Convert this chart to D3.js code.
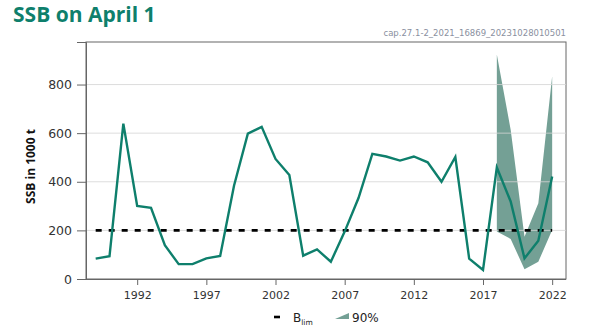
<!DOCTYPE html>
<html>
<head>
<meta charset="utf-8">
<script src="https://cdn.jsdelivr.net/npm/d3@7"></script>
<style>
  html, body { margin: 0; padding: 0; background: #fff; }
  svg { display: block; }
</style>
</head>
<body>
<svg id="chart" width="600" height="333"></svg>
<script>
// ------------------------------------------------------------
// SSB on April 1 – capelin stock, with 90% interval for recent years
// ------------------------------------------------------------

const YEARS = d3.range(1989, 2023);
const SSB = [
  84, 94, 639, 301, 293, 139, 61, 61, 85, 95,
  384, 598, 626, 494, 428, 96, 122, 71, 195, 333,
  515, 504, 487, 504, 480, 400, 502, 84, 37, 459,
  319, 85, 157, 422
];

const BAND_YEARS = [2018, 2019, 2020, 2021, 2022];
const BAND_LOW   = [195, 165, 40, 71, 202];
const BAND_HIGH  = [924, 614, 174, 312, 834];

const BLIM = 200;
const Y_TICKS = [0, 200, 400, 600, 800];
const X_TICKS = [1992, 1997, 2002, 2007, 2012, 2017, 2022];

const TEAL = '#0e7f6c';
const BAND = '#74a095';

const svg = d3.select('#chart');
const M = { left: 86, right: 34, top: 42, bottom: 54 };
const W = 600, H = 333;

const x = d3.scaleLinear().domain([1988.3, 2023]).range([M.left, W - M.right]);
const y = d3.scaleLinear().domain([0, 975]).range([H - M.bottom, M.top]);

// title + run id
svg.append('text')
  .attr('x', 13).attr('y', 22)
  .attr('font-family', 'Open Sans, sans-serif')
  .attr('font-weight', 700)
  .attr('font-size', '21px')
  .attr('fill', TEAL)
  .text('SSB on April 1');

svg.append('text')
  .attr('x', W - M.right).attr('y', 36)
  .attr('text-anchor', 'end')
  .attr('font-family', 'DejaVu Sans, sans-serif')
  .attr('font-size', '8.5px')
  .attr('fill', '#8a90a0')
  .text('cap.27.1-2_2021_16869_20231028010501');

// frame
svg.append('rect')
  .attr('x', M.left).attr('y', M.top)
  .attr('width', W - M.right - M.left).attr('height', H - M.bottom - M.top)
  .attr('fill', 'none').attr('stroke', '#666').attr('stroke-width', 1);

// 90% band
const bandData = BAND_YEARS.map((yr, i) => ({ yr, lo: BAND_LOW[i], hi: BAND_HIGH[i] }));
svg.append('path')
  .datum(bandData)
  .attr('d', d3.area().x(d => x(d.yr)).y0(d => y(d.lo)).y1(d => y(d.hi)))
  .attr('fill', BAND);

// gridlines (on top of the band, faint)
svg.append('g').selectAll('line')
  .data(Y_TICKS.filter(d => d > 0)).join('line')
    .attr('x1', M.left).attr('x2', W - M.right)
    .attr('y1', d => y(d)).attr('y2', d => y(d))
    .attr('stroke', '#d4d4d4').attr('stroke-opacity', 0.8).attr('stroke-width', 1);

// axes
const yAxis = svg.append('g')
  .attr('transform', `translate(${M.left},0)`)
  .call(d3.axisLeft(y).tickValues(Y_TICKS).tickSize(9).tickPadding(5));
const xAxis = svg.append('g')
  .attr('transform', `translate(0,${H - M.bottom})`)
  .call(d3.axisBottom(x).tickValues(X_TICKS).tickFormat(d3.format('d')).tickSize(6).tickPadding(6));

[yAxis, xAxis].forEach(a => {
  a.select('.domain').attr('stroke', '#666');
  a.selectAll('.tick line').attr('stroke', '#666');
  a.selectAll('.tick text')
    .attr('fill', '#333')
    .attr('font-family', 'DejaVu Sans, sans-serif')
    .attr('font-size', '12.5px');
});
xAxis.select('.domain').attr('d', `M${M.left - 9},0.5H${W - M.right}`);
xAxis.selectAll('.tick text').attr('font-size', '11px');

svg.append('text')
  .attr('transform', `translate(35,${(M.top + H - M.bottom) / 2 + 6}) rotate(-90)`)
  .attr('text-anchor', 'middle')
  .attr('font-family', 'Open Sans, sans-serif')
  .attr('font-weight', 700)
  .attr('font-size', '12px')
  .attr('fill', '#111')
  .text('SSB in 1000 t');

// Blim
svg.append('line')
  .attr('x1', x(YEARS[0])).attr('x2', x(YEARS[YEARS.length - 1]))
  .attr('y1', y(BLIM)).attr('y2', y(BLIM))
  .attr('stroke', '#000').attr('stroke-width', 2.6)
  .attr('stroke-dasharray', '6,7');

// SSB line
svg.append('path')
  .datum(YEARS.map((yr, i) => [yr, SSB[i]]))
  .attr('d', d3.line().x(d => x(d[0])).y(d => y(d[1])))
  .attr('fill', 'none')
  .attr('stroke', TEAL)
  .attr('stroke-width', 2.4)
  .attr('stroke-linejoin', 'miter');

// legend
const lg = svg.append('g').attr('transform', 'translate(0,317)');
lg.append('line')
  .attr('x1', 274).attr('x2', 280).attr('y1', 0).attr('y2', 0)
  .attr('stroke', '#000').attr('stroke-width', 2.6);
const bl = lg.append('text')
  .attr('x', 293).attr('y', 5)
  .attr('font-family', 'DejaVu Sans, sans-serif')
  .attr('font-size', '12px')
  .attr('fill', '#222');
bl.append('tspan').text('B');
bl.append('tspan').attr('font-size', '7.5px').attr('dy', 3).text('lim');
lg.append('path')
  .attr('d', 'M335,2 L349,-4 L349,2 Z')
  .attr('fill', BAND);
lg.append('text')
  .attr('x', 352).attr('y', 5)
  .attr('font-family', 'DejaVu Sans, sans-serif')
  .attr('font-size', '12px')
  .attr('fill', '#222')
  .text('90%');
</script>
</body>
</html>
